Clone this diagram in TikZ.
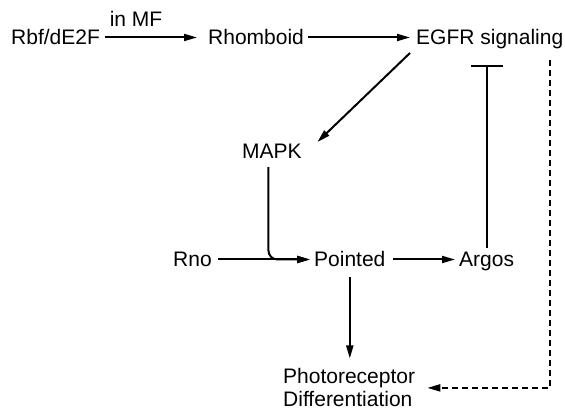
\documentclass[tikz,border=0pt]{standalone}
\usepackage{fontspec}
\setmainfont{Liberation Sans}
\usetikzlibrary{arrows.meta,calc}
\begin{document}
\begin{tikzpicture}[x=1pt,y=1pt,
 lbl/.style={inner sep=0pt, font=\fontsize{21}{25}\selectfont, text height=15pt, text depth=0pt, anchor=base west},
 conn/.style={line width=2pt, -{Triangle[length=13pt,width=7pt]}},
 inhib/.style={line width=2pt, -{Bar[width=32pt]}},
 dashline/.style={dash pattern=on 6pt off 4pt},
 ]
\useasboundingbox (0,0) rectangle (565,411);
\node[lbl] (rbf) at (11,366) {Rbf/dE2F};
\node[lbl] (rho) at (208,366) {Rhomboid};
\node[lbl] (egfr) at (416,366) {EGFR signaling};
\node[lbl] (mapk) at (242,252) {MAPK};
\node[lbl] (rno) at (173,144) {Rno};
\node[lbl] (pnt) at (314,144) {Pointed};
\node[lbl] (argos) at (459,144) {Argos};
\node[inner sep=0pt, font=\fontsize{21}{23}\selectfont, align=left, anchor=north west] (photo) at (283,42.5) {Photoreceptor\\Differentiation};

\draw[conn, shorten <=5pt, shorten >=11pt] (rbf.east) -- node[lbl, pos=0.333, anchor=base, yshift=10.5pt] (inmf) {in MF} (rho.west);
\draw[conn, shorten <=4pt, shorten >=6pt] (rho.east) -- (egfr.west);
\draw[conn] ($(egfr.base west)+(-6,-8)$) -- ($(mapk.base east)+(15.5,17)$);
\draw[conn, rounded corners=9pt, shorten >=4pt] ($(mapk.south)+(-3.5,-8)$) |- (pnt.west);
\draw[conn, shorten <=6.5pt, shorten >=4pt] (rno.east) -- (pnt.west);
\draw[conn, shorten <=7pt, shorten >=4pt] (pnt.east) -- (argos.west);
\draw[inhib, shorten <=4pt, shorten >=20pt] (argos.north) -- (argos.north |- egfr.south);
\draw[conn, shorten <=10pt, shorten >=10pt] (pnt.south) -- (pnt.south |- photo.north);
\draw[conn, dashline, shorten >=12pt] ($(egfr.south east)+(-13,-15)$) |- (photo.east);
\end{tikzpicture}
\end{document}
